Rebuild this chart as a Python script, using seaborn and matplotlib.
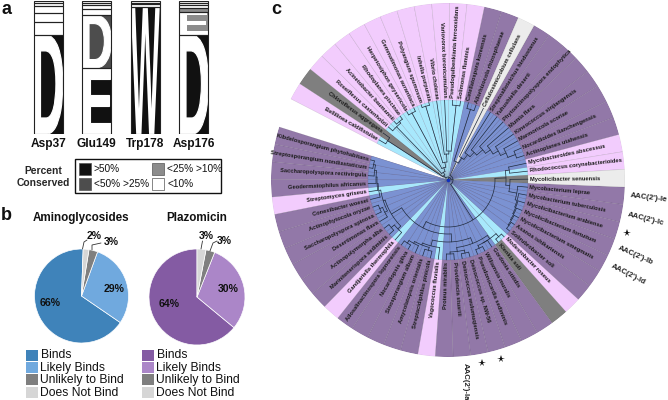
import numpy as np
import matplotlib
matplotlib.use('Agg')
import matplotlib.pyplot as plt
import seaborn as sns
from matplotlib.patches import Rectangle, PathPatch
from matplotlib.textpath import TextPath
from matplotlib.transforms import Affine2D
from matplotlib.font_manager import FontProperties

# panel a - logo stacks, bottom to top, heights in percent of the column
logo_sites = ['Asp37', 'Glu149', 'Trp178', 'Asp176']
logo_letters = [['D', '', '', '', '', ''],
                ['E', 'D', '', '', '', ''],
                ['W', '', '', '', '', ''],
                ['D', 'E', '', '', '', '']]
logo_heights = [[74.5, 9.5, 6.8, 5.5, 2.0, 1.7],
                [49.5, 40.0, 4.5, 3.0, 1.7, 1.3],
                [95.7, 2.0, 1.0, 1.3, 0.0, 0.0],
                [74.5, 17.5, 2.5, 2.5, 1.7, 1.3]]
logo_classes = [['>50', '<10', '<10', '<10', '<10', '<10'],
                ['>50', '25-50', '<10', '<10', '<10', '<10'],
                ['>50', '<10', '<10', '<10', '<10', '<10'],
                ['>50', '10-25', '10-25', '<10', '<10', '<10']]
conserved_labels = ['>50%', '<50% >25%', '<25% >10%', '<10%']

# panel b - pies
pie_titles = ['Aminoglycosides', 'Plazomicin']
pie_classes = ['Binds', 'Likely Binds', 'Unlikely to Bind', 'Does Not Bind']
amino_values = [66, 29, 3, 2]
plazo_values = [64, 30, 3, 3]

# panel c - clockwise from the gap in the ring
taxa = ['Bellilinea caldifistulae', 'Chloroflexus aggregans', 'Roseiflexus castenholzii',
        'Acinetobacter baumannii', 'Rhodoplanes piscinae', 'Herpetosiphon geysericola',
        'Gemmatimonas aurantiaca', 'Polyangium spumosum', 'Inhella purpurata', 'Vibrio cholerae',
        'Variovorax boronicumulans', 'Pseudogulbenkiania ferrooxidans', 'Solimonas fluminis',
        'Catellatospora koreensis', 'Allorhizocola rhizosphaerae', 'Cellulosimicrobium cellulans',
        'Streptoalloteichus hindustanus', 'Yuhushiella deserti', 'Phytoactinopolyspora endophytica',
        'Mumia flava', 'Kineococcus xinjiangensis', 'Marmoricola scoriae',
        'Nocardioides lianchengensis', 'Actinoplanes utahensis', 'Mycobacteroides abscessus',
        'Rhodococcus corynebacterioides', 'Mycolicibacter senuensis', 'Mycobacterium leprae',
        'Mycobacterium tuberculosis', 'Mycolicibacterium arabiense', 'Mycolicibacterium fortuitum',
        'Mycolicibacterium smegmatis', 'Asanoa ishikariensis', 'Solirubrobacter soli',
        'Modestobacter roseus', 'Klenkia soli', 'Gordonia otitidis', 'Williamsia muralis',
        'Pseudonocardia sediminis', 'Deinococcus sp. NW-56', 'Deinococcus wulumuqiensis',
        'Providencia stuartii', 'Proteus mirabilis', 'Vagococcus fluvialis',
        'Streptacidiphilus pinicola', 'Amycolatopsis orientalis', 'Sinosporangium album',
        'Nocardiopsis gilva', 'Allosalinactinospora lopnorensis', 'Gandjariella thermophila',
        'Marinitenerispora sediminis', 'Actinopolymorpha alba', 'Desertimonas flava',
        'Saccharopolyspora spinosa', 'Actinophytocola oryzae', 'Conexibacter woesei',
        'Streptomyces griseus', 'Geodermatophilus africanus', 'Saccharopolyspora rectivirgula',
        'Streptosporangium nondiastaticum', 'Kibdelosporangium phytohabitans']
# P likely (pink), B binds, U unlikely, N does not bind
outer_class = list('PUPPPPPPPPPPP' 'BB' 'N' 'BBBBBBBB' 'PP' 'N' 'BBBBBBB' 'P' 'U'
                   'BBBBBBB' 'P' 'BBBBB' 'P' 'BBBBBB' 'P' 'BBBB')
inner_class = list('CUCCCCCCCCCCC' 'BB' 'N' 'BBBBBBBB' 'BC' 'U' 'BBBBBBB' 'C' 'C'
                   'BBBBBBB' 'C' 'BBBBB' 'C' 'BBBBBB' 'C' 'BBBB')

# tree as [node radius, child, child...], a leaf is an index into taxa
clade_top = [6, [72, 0, 1],
             [9, [74, 2, [76, 3, 4]],
              [13, [76, 5, 6],
               [18, [77, 7, 8], [26, 9, [29, 10, [75, 11, 12]]]]]]]
clade_upper = [20, [74, 13, 14],
               [26, 15, [32, 16, [38, 17, [46, 18, [52, 19, [58, 20, [64, 21, [72, 22, 23]]]]]]]]]
clade_myco = [58, [62, 24, 25],
              [62, 26, [70, 27, [72, 28, [73, 29, [74, 30, [75, 31, [76, 32, 33]]]]]]]]
clade_low = [68, [72, [76, 34, 35], [72, 36, [75, 37, 38]]],
             [72, [75, 39, 40], [74, 41, 42]]]
clade_mid = [68, 43, [70, [73, 44, 45], [72, 46, [75, 47, 48]]]]
clade_left = [66, [70, 49, [74, 50, 51]],
              [68, [71, 52, [74, 53, 54]], [70, 55, [71, 56, [72, 57, [74, 58, [76, 59, 60]]]]]]]
clade_bottom = [54, [62, clade_low, clade_mid], clade_left]
tree = [3, clade_top, [5, clade_upper, [47, clade_myco, clade_bottom]]]

aac_labels = ["AAC(2')-Ie", "AAC(2')-Ic", "AAC(2')-Ib", "AAC(2')-Id", "AAC(2')-Ia"]

sns.set_theme(style='white')
plt.rcParams['font.family'] = ['Liberation Sans', 'DejaVu Sans']

W, H = 668, 400
fig = plt.figure(figsize=(W / 100, H / 100), dpi=100)


def box(x, y, w, h):
    # pixel box, y from the top
    return [x / W, 1 - (y + h) / H, w / W, h / H]


# ---- panel a ----
logo_colors = {'>50': '#111111', '25-50': '#4d4d4d', '10-25': '#8c8c8c', '<10': '#ffffff'}
ax_logo = fig.add_axes(box(24, 1, 194, 133))
glyph_font = FontProperties(family='Liberation Sans', weight='bold')
bar_width = 0.6
for i, site in enumerate(logo_sites):
    base = 0.0
    for letter, height, cls in zip(logo_letters[i], logo_heights[i], logo_classes[i]):
        if height == 0:
            continue
        sns.barplot(x=[site], y=[height], order=logo_sites, bottom=base, color=logo_colors[cls],
                    width=bar_width, saturation=1, errorbar=None, linewidth=0, ax=ax_logo)
        if letter:
            tp = TextPath((0, 0), letter, size=10, prop=glyph_font)
            bb = tp.get_extents()
            t = (Affine2D().translate(-bb.x0, -bb.y0)
                 .scale(bar_width / bb.width, height / bb.height)
                 .translate(i - bar_width / 2, base))
            lw = 0.8 if letter != 'W' and height > 30 else 0
            patch = PathPatch(t.transform_path(tp), fc='white', ec='white', lw=lw, zorder=5)
            ax_logo.add_patch(patch)
            patch.set_clip_path(Rectangle((i - bar_width / 2, base), bar_width, height,
                                          transform=ax_logo.transData))
        # outline goes above the white letter
        sns.barplot(x=[site], y=[height], order=logo_sites, bottom=base, color='#222222', fill=False,
                    width=bar_width, errorbar=None, linewidth=0.8, zorder=6, ax=ax_logo)
        base += height
ax_logo.set_xlim(-0.5, 3.5)
ax_logo.set_ylim(0, 100)
ax_logo.set_yticks([])
ax_logo.set_ylabel('')
ax_logo.tick_params(axis='x', length=0, pad=3)
for lab in ax_logo.get_xticklabels():
    lab.set_fontsize(8.6)
    lab.set_fontweight('bold')
    lab.set_color('#111111')
sns.despine(ax=ax_logo, left=True, bottom=True)

# ---- panel b ----
pie_blue = ['#3f83ba', '#70a9de', '#7f7f7f', '#d6d6d6']
pie_purple = ['#845ba3', '#ab86c8', '#7f7f7f', '#d6d6d6']
ax_p1 = fig.add_axes(box(34.5, 249, 94, 94))
ax_p1.pie(amino_values, colors=pie_blue, startangle=88, radius=1,
          wedgeprops={'edgecolor': 'white', 'linewidth': 0.5})
ax_p2 = fig.add_axes(box(149, 249, 96, 96))
ax_p2.pie(plazo_values, colors=pie_purple, startangle=90, radius=1,
          wedgeprops={'edgecolor': 'white', 'linewidth': 0.5})
for a in (ax_p1, ax_p2):
    a.set_xlim(-1, 1)
    a.set_ylim(-1, 1)

# ---- panel c ----
R = 177
cx, cy = 448, 180
ax_c = fig.add_axes(box(cx - R, cy - R, 2 * R, 2 * R), projection='polar')
ax_c.set_theta_zero_location('N')
ax_c.set_theta_direction(-1)

start_deg = -62.7
step_deg = 5.74
centers = (start_deg + (np.arange(len(taxa)) + 0.5) * step_deg) % 360
theta = np.deg2rad(centers)

outer_colors = {'B': '#9278a8', 'P': '#f2ccfd', 'U': '#7f7f7f', 'N': '#ececec'}
inner_colors = {'B': '#7b92d2', 'C': '#a8e8fc', 'U': '#7f7f7f', 'N': '#e8e8e8'}
sns.barplot(x=theta, y=[R] * len(taxa), hue=outer_class, palette=outer_colors, native_scale=True,
            width=1, saturation=1, edgecolor=(0, 0, 0, 0.12), linewidth=0.4, legend=False,
            errorbar=None, ax=ax_c)
sns.barplot(x=theta, y=[80] * len(taxa), hue=inner_class, palette=inner_colors, native_scale=True,
            width=1, saturation=1, edgecolor=(0, 0, 0, 0.10), linewidth=0.4, legend=False,
            errorbar=None, ax=ax_c)

line_kw = dict(color='#1f2a3c', lw=0.5, solid_capstyle='round', zorder=6)
leaf_theta = np.deg2rad(start_deg + (np.arange(len(taxa)) + 0.5) * step_deg)


def draw_node(node, parent_r):
    # returns theta of the node
    if isinstance(node, int):
        ax_c.plot([leaf_theta[node]] * 2, [parent_r, 80], **line_kw)
        return leaf_theta[node]
    r = node[0]
    child_t = [draw_node(ch, r) for ch in node[1:]]
    ax_c.plot(np.linspace(min(child_t), max(child_t), 40), [r] * 40, **line_kw)
    t = (min(child_t) + max(child_t)) / 2
    ax_c.plot([t, t], [parent_r, r], **line_kw)
    return t


draw_node(tree, 0)
ax_c.plot([0], [0], marker='o', ms=1.5, color='#1030c0', zorder=7)

for name, deg in zip(taxa, centers):
    if deg <= 180:
        ax_c.text(np.deg2rad(deg), 82, name, rotation=90 - deg, rotation_mode='anchor',
                  ha='left', va='center', fontsize=4.15, fontweight='bold', color='#1a1a1a', zorder=8)
    else:
        ax_c.text(np.deg2rad(deg), 82, name, rotation=270 - deg, rotation_mode='anchor',
                  ha='right', va='center', fontsize=4.15, fontweight='bold', color='#1a1a1a', zorder=8)
ax_c.set_xlim(0, 2 * np.pi)
ax_c.set_ylim(0, R)
ax_c.set_axis_off()

# ---- overlay for the free text, pixel coordinates ----
ov = fig.add_axes([0, 0, 1, 1], facecolor='none')
ov.set_xlim(0, W)
ov.set_ylim(H, 0)
ov.axis('off')
ov.set_zorder(10)

for s, x, y in [('a', 2, 9), ('b', 1, 216), ('c', 271, 9)]:
    ov.text(x, y, s, fontsize=13, fontweight='bold', color='#111111', va='center')

# conservation key
ov.add_patch(Rectangle((75, 159), 146, 33.5, fc='white', ec='#111111', lw=1))
ov.text(43, 171, 'Percent', fontsize=7.4, fontweight='bold', ha='center', va='center')
ov.text(43, 183, 'Conserved', fontsize=7.4, fontweight='bold', ha='center', va='center')
key_pos = [(79, 163), (79, 178), (152, 163), (152, 178)]
key_cols = [logo_colors['>50'], logo_colors['25-50'], logo_colors['10-25'], logo_colors['<10']]
for (x, y), c, lab in zip(key_pos, key_cols, conserved_labels):
    ov.add_patch(Rectangle((x, y), 12, 11.5, fc=c, ec='#555555', lw=0.5))
    ov.text(x + 15, y + 5.8, lab, fontsize=7.3, va='center', color='#111111')

# pies text
for title, x in zip(pie_titles, [81, 197]):
    ov.text(x, 218, title, fontsize=8.4, fontweight='bold', ha='center', va='center', color='#111111')
pie_text = [(amino_values[0], 50, 303), (amino_values[1], 114, 289), (amino_values[3], 94, 236),
            (amino_values[2], 111, 242), (plazo_values[0], 169, 304), (plazo_values[1], 228, 289),
            (plazo_values[3], 206, 236), (plazo_values[2], 224, 241)]
for v, x, y in pie_text:
    ov.text(x, y, f'{v}%', fontsize=7.6, fontweight='bold', ha='center', va='center', color='#111111')
leader = [([82.5, 84, 87], [249, 242, 240]), ([92, 92, 101], [250, 245, 243]),
          ([201, 202.5], [249, 241]), ([210, 213, 217], [251, 243, 241])]
for xs, ys in leader:
    ov.plot(xs, ys, color='#333333', lw=0.6)

# pie keys
key_y = [350, 362, 374, 387]
for x0, cols in [(26, pie_blue), (142, pie_purple)]:
    for y, lab, c in zip(key_y, pie_classes, cols):
        ov.add_patch(Rectangle((x0, y), 11.5, 10.8, fc=c, ec='none'))
        ov.text(x0 + 14.5, y + 5.5, lab, fontsize=8.7, va='center', color='#111111')

# AAC labels and stars
aac_pos = [(649, 198, -7), (646, 219, -14), (636, 256, -24), (628, 274, -27), (465, 382, -90)]
for lab, (x, y, rot) in zip(aac_labels, aac_pos):
    ov.text(x, y, lab, fontsize=5.6, fontweight='bold', ha='center', va='center', rotation=rot,
            rotation_mode='anchor', color='#222222')
for x, y in [(627, 233), (501, 359), (482, 363)]:
    ov.plot([x], [y], marker='*', ms=5.5, color='#111111', mew=0)

fig.savefig('out.png', dpi=100)
